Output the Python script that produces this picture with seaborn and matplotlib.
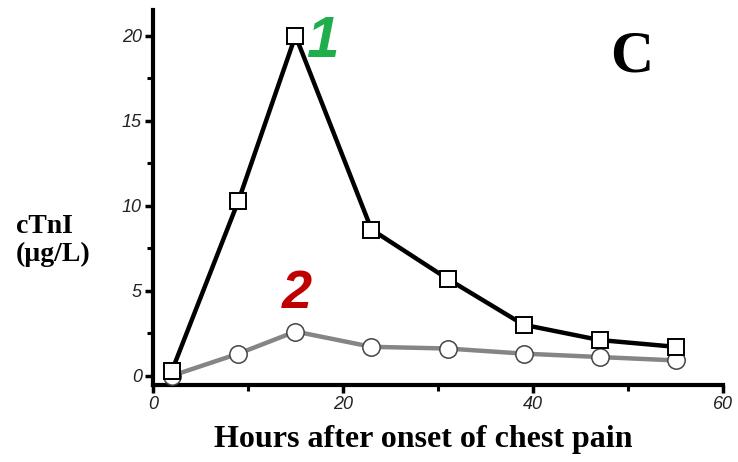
import matplotlib
matplotlib.use("Agg")
import matplotlib.pyplot as plt
import seaborn as sns
import pandas as pd
from matplotlib.ticker import MultipleLocator

# cTnI concentration over time after onset of chest pain
hours = [2, 9, 15, 23, 31, 39, 47, 55]
series1_ctni = [0.3, 10.3, 20.0, 8.6, 5.7, 3.0, 2.1, 1.7]
series2_ctni = [0.0, 1.3, 2.6, 1.7, 1.6, 1.3, 1.1, 0.9]
x_ticks = [0, 20, 40, 60]
y_ticks = [0, 5, 10, 15, 20]

df1 = pd.DataFrame({"hours": hours, "ctni": series1_ctni})
df2 = pd.DataFrame({"hours": hours, "ctni": series2_ctni})

sns.set_style("ticks")
plt.rcParams["font.family"] = ["DejaVu Sans"]

fig = plt.figure(figsize=(7.38, 4.62), dpi=100)
ax = fig.add_axes([0.2073, 0.1665, 0.7724, 0.8115])

sns.lineplot(data=df2, x="hours", y="ctni", ax=ax, color="#858585", lw=3.2,
             marker="o", markersize=12.5, markerfacecolor="white",
             markeredgecolor="#444444", markeredgewidth=1.1, zorder=3)
sns.lineplot(data=df1, x="hours", y="ctni", ax=ax, color="black", lw=3.2,
             marker="s", markersize=11.5, markerfacecolor="white",
             markeredgecolor="black", markeredgewidth=1.4, zorder=4)

ax.set_xlim(0, 60)
ax.set_ylim(-0.55, 21.5)
ax.set_xticks(x_ticks)
ax.set_yticks(y_ticks)
ax.xaxis.set_minor_locator(MultipleLocator(10))
ax.yaxis.set_minor_locator(MultipleLocator(2.5))
ax.tick_params(axis="both", which="major", direction="out", length=6, width=2.5,
               labelsize=13, labelcolor="#222222", color="black", pad=2)
ax.tick_params(axis="both", which="minor", direction="out", length=4.5,
               width=2.2, color="black")
for lbl in ax.get_xticklabels() + ax.get_yticklabels():
    lbl.set_fontstyle("italic")
    lbl.set_fontfamily("Liberation Sans")

for side in ("top", "right"):
    ax.spines[side].set_visible(False)
for side in ("left", "bottom"):
    ax.spines[side].set_linewidth(3)
    ax.spines[side].set_color("black")

ax.set_xlabel("")
ax.set_ylabel("")

fig.text(0.574, 0.048, "Hours after onset of chest pain", ha="center",
         va="center", fontsize=23, fontweight="bold", color="black",
         family="Liberation Serif")
fig.text(0.022, 0.48, "cTnI\n(\u00b5g/L)", ha="left", va="center", fontsize=20,
         fontweight="bold", color="black", family="Liberation Serif",
         linespacing=1.15)

ax.text(16.1, 19.6, "1", color="#1fae4b", fontsize=42, fontweight="bold",
        fontstyle="italic", family="Liberation Sans", ha="left", va="center")
ax.text(15.1, 4.8, "2", color="#c00000", fontsize=39, fontweight="bold",
        fontstyle="italic", family="Liberation Sans", ha="center", va="center")
ax.text(50.4, 18.7, "C", color="black", fontsize=43, fontweight="bold",
        family="Liberation Serif", ha="center", va="center")

fig.savefig("out.png", dpi=100)
